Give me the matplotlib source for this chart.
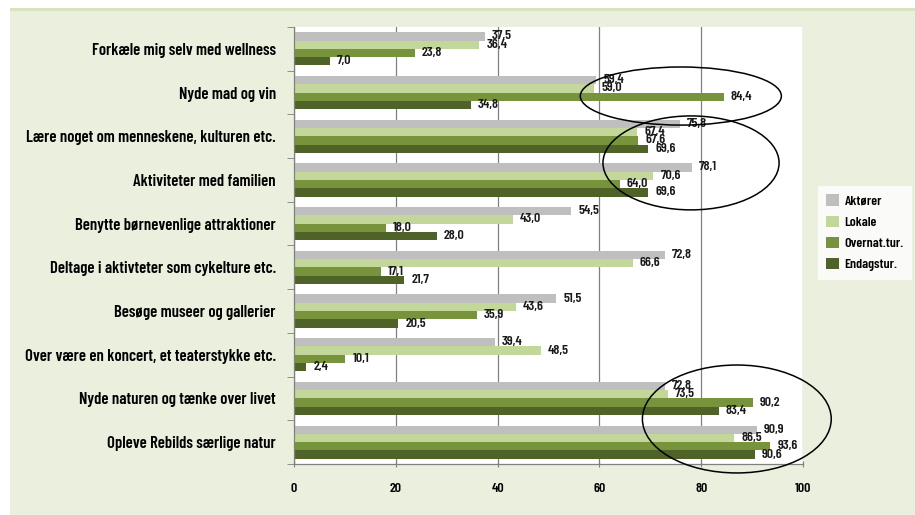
import matplotlib
matplotlib.use("Agg")
import matplotlib.pyplot as plt
from matplotlib.patches import Ellipse, Rectangle
import numpy as np

plt.rcParams['font.family'] = ['Barlow Condensed', 'DejaVu Sans']
plt.rcParams['font.weight'] = 'semibold'

categories = ["Forkæle mig selv med wellness", "Nyde mad og vin",
              "Lære noget om menneskene, kulturen etc.", "Aktiviteter med familien",
              "Benytte børnevenlige attraktioner", "Deltage i aktivteter som cykelture etc.",
              "Besøge museer og gallerier", "Over være en koncert, et teaterstykke etc.",
              "Nyde naturen og tænke over livet", "Opleve Rebilds særlige natur"]
series_names = ["Aktører", "Lokale", "Overnat.tur.", "Endagstur."]
aktorer = [37.5, 59.4, 75.8, 78.1, 54.5, 72.8, 51.5, 39.4, 72.8, 90.9]
lokale = [36.4, 59.0, 67.4, 70.6, 43.0, 66.6, 43.6, 48.5, 73.5, 86.5]
overnat = [23.8, 84.4, 67.6, 64.0, 18.0, 17.1, 35.9, 10.1, 90.2, 93.6]
endags = [7.0, 34.8, 69.6, 69.6, 28.0, 21.7, 20.5, 2.4, 83.4, 90.6]
x_ticks = [0, 20, 40, 60, 80, 100]

colors = ["#BFBFBF", "#C4D79B", "#77933C", "#4F6228"]
series = [aktorer, lokale, overnat, endags]

fig = plt.figure(figsize=(9.15, 5.15), dpi=100)
fig.patch.set_facecolor("white")
panel = Rectangle((10/915, 0), 1 - 10/915, 1 - 8/515, transform=fig.transFigure,
                  facecolor="#EBEFDE", edgecolor="none", zorder=-10)
fig.patches.append(panel)
topline = Rectangle((10/915, 1 - 11/515), 1 - 10/915, 3/515, transform=fig.transFigure,
                    facecolor="#D7E4BD", edgecolor="none", zorder=-9)
fig.patches.append(topline)

ax = fig.add_axes([294/915, 1 - 464/515, (803-294)/915, (464-27)/515])
ax.set_facecolor("white")

n = len(categories)
pos = np.arange(n)
h = 0.19
offsets = [-1.5*h, -0.5*h, 0.5*h, 1.5*h]
for s, (vals, c, name, off) in enumerate(zip(series, colors, series_names, offsets)):
    ax.barh(pos + off, vals, height=h, color=c, label=name, zorder=2)
    for p, v in zip(pos, vals):
        ax.annotate(f"{v:.1f}".replace(".", ","), (v, p + off), xytext=(5, 0),
                    textcoords="offset points", va="center", ha="left",
                    fontsize=10, fontweight="semibold", color="#1a1a1a", zorder=3)

ax.set_xlim(0, 100)
ax.set_ylim(n - 0.5, -0.5)
ax.set_xticks(x_ticks)
ax.set_xticklabels([str(t) for t in x_ticks], fontsize=10, fontweight="semibold")
ax.set_yticks(pos)
ax.set_yticklabels(categories, fontsize=12, fontweight="semibold")
ax.tick_params(axis="y", length=0, pad=13)
ax.set_yticks(np.arange(n + 1) - 0.5, minor=True)
ax.tick_params(axis="y", which="minor", length=5, color="#808080", direction="out")
ax.tick_params(axis="x", length=5, color="#808080", direction="inout", pad=11)
ax.grid(axis="x", color="#808080", linewidth=0.9, zorder=1)
for sp in ["top", "right"]:
    ax.spines[sp].set_visible(False)
for sp in ["left", "bottom"]:
    ax.spines[sp].set_color("#808080")
    ax.spines[sp].set_linewidth(0.9)

ellipses = [(76.0, 1.08, 39.5, 1.33), (78.0, 2.61, 34.6, 2.15), (87.0, 8.47, 37.1, 2.47)]
for xc, yc, w, hh in ellipses:
    e = Ellipse((xc, yc), w, hh, facecolor="none", edgecolor="black", linewidth=1.1,
                zorder=4, clip_on=False)
    ax.add_patch(e)

leg = fig.legend(loc="upper left", bbox_to_anchor=(818/915, 1 - 186/515),
                 borderaxespad=0, frameon=True, fancybox=False, handlelength=0.9,
                 handleheight=0.9, handletextpad=0.4, labelspacing=0.55,
                 borderpad=0.6, prop={"weight": "semibold", "size": 10})
leg.get_frame().set_facecolor("white")
leg.get_frame().set_edgecolor("none")

fig.savefig("out.png", dpi=100, facecolor=fig.get_facecolor())
